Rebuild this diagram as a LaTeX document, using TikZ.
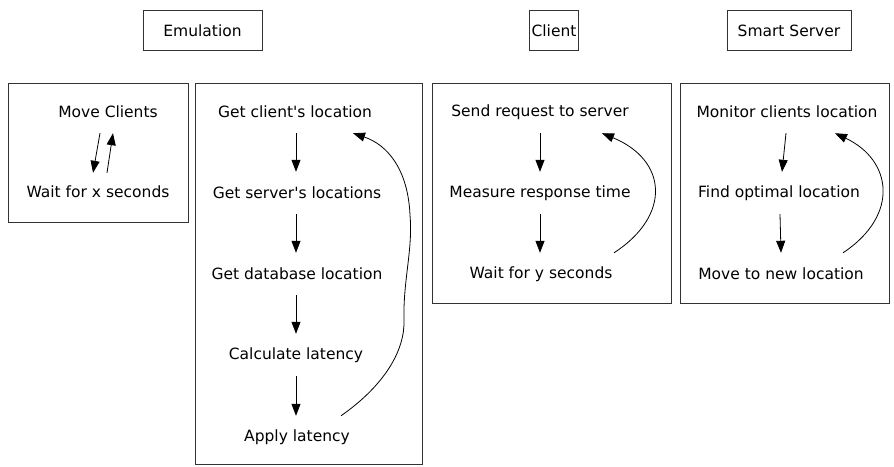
\documentclass[tikz,border=0pt]{standalone}
\usepackage{fontspec}
\newfontfamily\dvs{DejaVu Sans}
\usetikzlibrary{arrows.meta}
\newcommand{\apos}{{\char"0027}}
\begin{document}
\begin{tikzpicture}[x=1pt,y=-1pt,
  frame/.style={draw=black!80,line width=0.9pt},
  title/.style={draw=black!80,line width=0.9pt,font=\dvs\fontsize{15.5}{18}\selectfont,minimum height=40pt,inner xsep=9pt},
  stepbox/.style={font=\dvs\fontsize{15.5}{18}\selectfont,minimum height=42pt,inner sep=0pt},
  flow/.style={line width=0.8pt,-{Triangle[length=12pt,width=9pt]}}]
\useasboundingbox (0,0) rectangle (894,466);
% column headers
\node[title,minimum width=119pt] (th1) at (202.5,30.5) {Emulation};
\node[title,minimum width=44pt,inner xsep=2pt] (th2) at (554,30.5) {Client};
\node[title,minimum width=124pt] (th3) at (789,30.5) {Smart Server};
% frames
\draw[frame] (8,83) rectangle (188,222);
\draw[frame] (195,83) rectangle (422,464);
\draw[frame] (432,83) rectangle (671,303);
\draw[frame] (680,83) rectangle (889,303);
% client movement loop
\node[stepbox] (mc) at (108,112) {Move Clients};
\node[stepbox,minimum height=38pt] (wx) at (98,192) {Wait for x seconds};
\draw[flow] ([xshift=-8pt]mc.south) -- ([xshift=-5pt]wx.north);
\draw[flow] ([xshift=9pt]wx.north) -- ([xshift=5pt]mc.south);
% latency emulation loop
\node[stepbox] (gc) at (295,112) {Get client\apos s location};
\node[stepbox] (gs) at (297,193) {Get server\apos s locations};
\node[stepbox] (gd) at (297,274) {Get database location};
\node[stepbox] (cl) at (296,355) {Calculate latency};
\node[stepbox] (al) at (297,437) {Apply latency};
\draw[flow] ([xshift=1pt]gc.south) -- (gs.north -| {(296,0)});
\draw[flow] (gs.south -| {(296,0)}) -- (gd.north -| {(296,0)});
\draw[flow] (gd.south -| {(296,0)}) -- (cl.north -| {(296,0)});
\draw[flow] (cl.south -| {(296,0)}) -- (al.north -| {(296,0)});
\draw[flow] ([xshift=44pt]al.north) .. controls (385,385) and (405,350) .. (404,320)
  .. controls (403,280) and (413,250) .. (410,215)
  .. controls (408,170) and (388,145) .. ([xshift=58pt]gc.south);
% client loop
\node[stepbox] (sr) at (540,112) {Send request to server};
\node[stepbox] (mr) at (540,193) {Measure response time};
\node[stepbox] (wy) at (541,274) {Wait for y seconds};
\draw[flow] (sr.south) -- (mr.north);
\draw[flow] (mr.south) -- ([xshift=-1pt]wy.north);
\draw[flow] ([xshift=73pt]wy.north) .. controls (672,215) and (667,160) .. ([xshift=62pt]sr.south);
% smart server loop
\node[stepbox] (mcl) at (787,112) {Monitor clients location};
\node[stepbox] (fol) at (779,193) {Find optimal location};
\node[stepbox] (mtn) at (781,274) {Move to new location};
\draw[flow] ([xshift=-1pt]mcl.south) -- ([xshift=3pt]fol.north);
\draw[flow] ([xshift=1pt]fol.south) -- (mtn.north);
\draw[flow] ([xshift=62pt]mtn.north) .. controls (900,215) and (892,160) .. ([xshift=48pt]mcl.south);
\end{tikzpicture}
\end{document}
